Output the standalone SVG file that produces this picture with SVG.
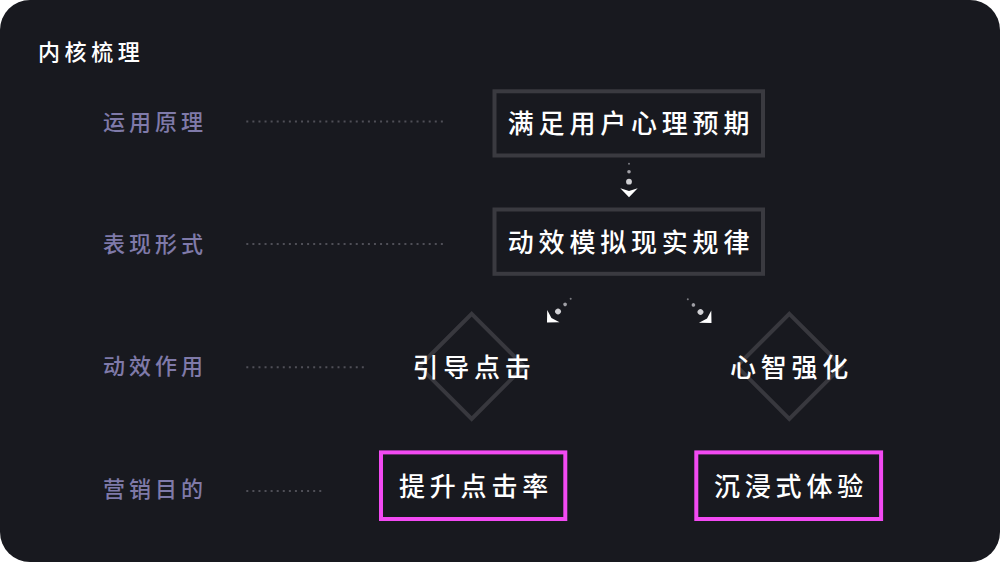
<svg xmlns="http://www.w3.org/2000/svg" width="1000" height="562" viewBox="0 0 1000 562">
  <style>
    .title { font-family: "Noto Sans CJK SC", "Noto Sans", sans-serif; font-size: 22px; font-weight: 500; fill: #ffffff; letter-spacing: 4.6px; }
    .label { font-family: "Noto Sans CJK SC", "Noto Sans", sans-serif; font-size: 22px; font-weight: 500; fill: #7f7aa9; letter-spacing: 4px; }
    .node-text { font-family: "Noto Sans CJK SC", "Noto Sans", sans-serif; font-size: 26px; font-weight: 500; fill: #ffffff; letter-spacing: 4.8px; text-anchor: middle; }
    .box { fill: none; stroke: #3a3a40; stroke-width: 4; }
    .diamond { fill: none; stroke: #38383e; stroke-width: 4; }
    .goal { fill: none; stroke: #f24af2; stroke-width: 4; }
    .leader { stroke: #4f4f57; stroke-width: 2; stroke-dasharray: 2 4.08; fill: none; }
  </style>
  <defs>
    <g id="arrow">
      <circle cx="0" cy="-33.5" r="1" fill="#7a7a80"/>
      <circle cx="0" cy="-25.6" r="1.8" fill="#a0a0a6"/>
      <circle cx="0" cy="-15.6" r="2.9" fill="#d0d0d4"/>
      <polygon points="-8.7,-9 0,-6.3 8.7,-9 0,0" fill="#ffffff"/>
    </g>
  </defs>

  <rect x="0" y="0" width="1000" height="562" fill="#ffffff"/>
  <rect id="background" x="0" y="0" width="1000" height="562" rx="30" ry="30" fill="#18191f"/>

  <text class="title" x="38" y="60">内核梳理</text>

  <g id="row-labels">
    <text class="label" x="103" y="130.4">运用原理</text>
    <text class="label" x="103" y="252.4">表现形式</text>
    <text class="label" x="103" y="374.4">动效作用</text>
    <text class="label" x="103" y="497">营销目的</text>
  </g>

  <g id="leaders">
    <line class="leader" x1="246.3" y1="121.5" x2="443" y2="121.5"/>
    <line class="leader" x1="246.3" y1="244" x2="443" y2="244"/>
    <line class="leader" x1="246.3" y1="367.3" x2="366" y2="367.3"/>
    <line class="leader" x1="246.3" y1="491" x2="322" y2="491"/>
  </g>

  <g id="connectors">
    <use href="#arrow" transform="translate(629,197.3)"/>
    <use href="#arrow" transform="translate(547,322.5) rotate(45)"/>
    <use href="#arrow" transform="translate(711.5,323) rotate(-45)"/>
  </g>

  <g id="node-principle">
    <rect class="box" x="494.5" y="91.3" width="268.5" height="64.2"/>
    <text class="node-text" x="631" y="133">满足用户心理预期</text>
  </g>

  <g id="node-expression">
    <rect class="box" x="494.5" y="209.5" width="268.5" height="64.3"/>
    <text class="node-text" x="631" y="251.5">动效模拟现实规律</text>
  </g>

  <g id="node-guide">
    <polygon class="diamond" points="471.7,313.8 524.2,366.3 471.7,418.8 419.2,366.3"/>
    <text class="node-text" x="474" y="376.5">引导点击</text>
  </g>

  <g id="node-mind">
    <polygon class="diamond" points="789.3,313.8 841.8,366.3 789.3,418.8 736.8,366.3"/>
    <text class="node-text" x="791.5" y="376.5">心智强化</text>
  </g>

  <g id="node-ctr">
    <rect class="goal" x="381" y="452.4" width="184.3" height="66.6"/>
    <text class="node-text" x="476" y="495.5">提升点击率</text>
  </g>

  <g id="node-immersive">
    <rect class="goal" x="696.3" y="452.4" width="184.8" height="66.6"/>
    <text class="node-text" x="791" y="495.5">沉浸式体验</text>
  </g>
</svg>
